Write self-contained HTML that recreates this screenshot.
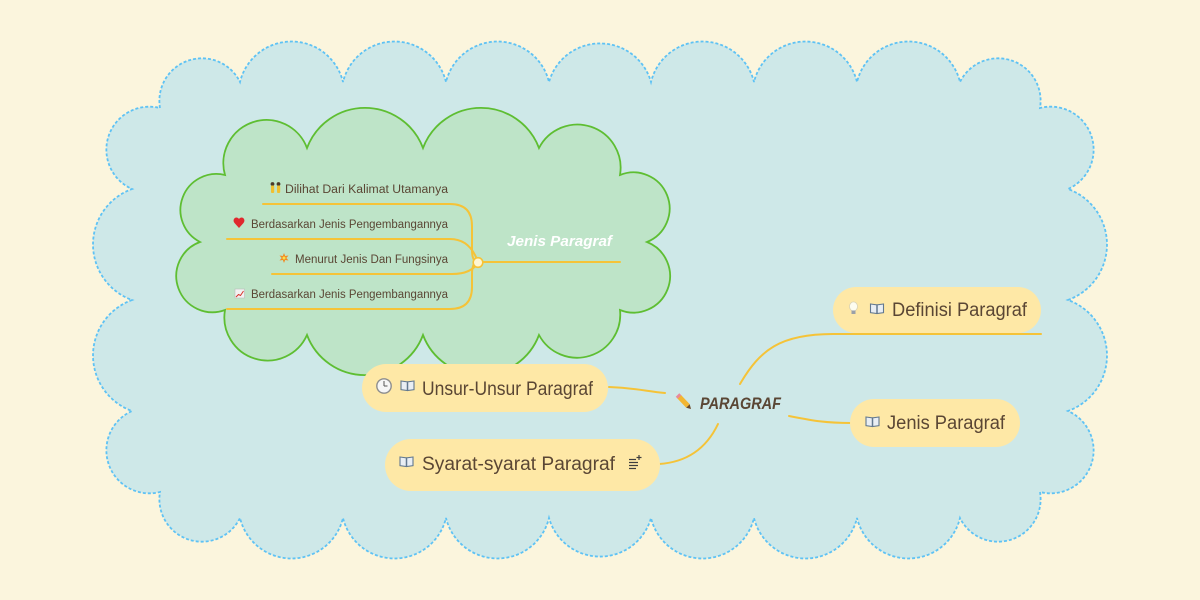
<!DOCTYPE html>
<html>
<head>
<meta charset="utf-8">
<style>
  html,body{margin:0;padding:0;background:#fbf5dd;}
  svg{display:block;}
  .t{font-family:"Liberation Sans",sans-serif;fill:#5a4634;}
</style>
</head>
<body>
<svg width="1200" height="600" viewBox="0 0 1200 600" xmlns="http://www.w3.org/2000/svg">
  <rect x="0" y="0" width="1200" height="600" fill="#fbf5dd"/>

  <!-- outer blue cloud -->
  <path d="M160,108
    A42.5,42.5 0 0 1 240,82
    A53,53 0 0 1 343,82
    A53,53 0 0 1 446,82
    A53,53 0 0 1 549,82
    A53,53 0 0 1 651,82
    A53,53 0 0 1 754,82
    A53,53 0 0 1 857,82
    A53,53 0 0 1 960,82
    A42.5,42.5 0 0 1 1040,108
    A43,43 0 0 1 1068,189
    A59,59 0 0 1 1068,300
    A59,59 0 0 1 1068,411
    A43,43 0 0 1 1040,492
    A42.5,42.5 0 0 1 960,518
    A53,53 0 0 1 857,518
    A53,53 0 0 1 754,518
    A53,53 0 0 1 651,518
    A53,53 0 0 1 549,518
    A53,53 0 0 1 446,518
    A53,53 0 0 1 343,518
    A53,53 0 0 1 240,518
    A42.5,42.5 0 0 1 160,492
    A43,43 0 0 1 132,411
    A59,59 0 0 1 132,300
    A59,59 0 0 1 132,189
    A43,43 0 0 1 160,108 Z"
    fill="#cee8e8" stroke="#5ec2f4" stroke-width="1.8" stroke-dasharray="3 2"/>

  <!-- inner green cloud -->
  <path d="M225,175
    A43.2,43.2 0 0 1 307,148
    A62,62 0 0 1 423,148
    A62,62 0 0 1 539,148
    A43.2,43.2 0 0 1 620,175
    A36,36 0 0 1 647,242
    A36,36 0 0 1 620,310
    A43.2,43.2 0 0 1 539,335
    A62,62 0 0 1 423,335
    A62,62 0 0 1 307,335
    A43.2,43.2 0 0 1 225,310
    A36,36 0 0 1 200,242
    A36,36 0 0 1 225,175 Z"
    fill="#bee4c8" stroke="#5ebe32" stroke-width="1.8"/>

  <!-- inner branch lines -->
  <g fill="none" stroke="#f5c338" stroke-width="2" stroke-linecap="round">
    <path d="M263,204 H450 Q472,204 472,226 V250 Q472,262 478,262"/>
    <path d="M227,239 H450 Q470,239 478,262"/>
    <path d="M272,274 H452 Q472,274 478,262"/>
    <path d="M227,309 H450 Q472,309 472,287 V274 Q472,262 478,262"/>
    <path d="M478,262 H620"/>
  </g>
  <circle cx="478" cy="262.5" r="4.8" fill="#fff6d2" stroke="#f5c338" stroke-width="1.6"/>

  <!-- Jenis Paragraf label -->
  <text x="507" y="246" font-family="Liberation Sans, sans-serif" font-size="15" font-weight="bold" font-style="italic" fill="#ffffff" textLength="105" lengthAdjust="spacingAndGlyphs">Jenis Paragraf</text>

  <!-- child texts -->
  <text class="t" x="285" y="193" font-size="11.5" textLength="163" lengthAdjust="spacingAndGlyphs">Dilihat Dari Kalimat Utamanya</text>
  <text class="t" x="251" y="228" font-size="11.5" textLength="197" lengthAdjust="spacingAndGlyphs">Berdasarkan Jenis Pengembangannya</text>
  <text class="t" x="295" y="263" font-size="11.5" textLength="153" lengthAdjust="spacingAndGlyphs">Menurut Jenis Dan Fungsinya</text>
  <text class="t" x="251" y="298" font-size="11.5" textLength="197" lengthAdjust="spacingAndGlyphs">Berdasarkan Jenis Pengembangannya</text>

  <!-- child icons -->
  <g>
    <circle cx="272.5" cy="184" r="1.9" fill="#4a3a2a"/>
    <rect x="271" y="185.5" width="3.2" height="7.5" rx="1" fill="#f0c030"/>
    <circle cx="278.5" cy="184" r="1.9" fill="#4a3a2a"/>
    <rect x="277" y="185.5" width="3.2" height="7.5" rx="1" fill="#f0c030"/>
  </g>
  <path d="M239,228 L234.5,223 C232.5,220.5 234,217.5 236.5,217.5 C238,217.5 239,219 239,219 C239,219 240,217.5 241.5,217.5 C244,217.5 245.5,220.5 243.5,223 Z" fill="#e0282e"/>
  <polygon points="284,253 285.2,256 288.5,255.5 286.3,258 288.5,260.5 285.2,260 284,263 282.8,260 279.5,260.5 281.7,258 279.5,255.5 282.8,256" fill="#f08a24"/>
  <circle cx="284" cy="258" r="1.5" fill="#fbe04a"/>
  <rect x="235" y="289" width="9.5" height="9" fill="#f2f2f2" stroke="#bbb" stroke-width="0.6"/>
  <polyline points="236,297 238.5,294.5 240.5,295.5 243.5,291" fill="none" stroke="#d8342c" stroke-width="1"/>

  <!-- main connectors -->
  <g fill="none" stroke="#f5c338" stroke-width="2" stroke-linecap="round">
    <path d="M740,384 C760,350 780,334 833,334 H1041"/>
    <path d="M789,416 C815,421 825,423 851,423"/>
    <path d="M609,387 C635,388 645,391 665,393"/>
    <path d="M659,464 C690,462 708,445 718,424"/>
  </g>

  <!-- nodes -->
  <rect x="833" y="287" width="208" height="46" rx="23" fill="#fee8a6"/>
  <rect x="850" y="399" width="170" height="48" rx="24" fill="#fee8a6"/>
  <rect x="362" y="364" width="246" height="48" rx="24" fill="#fee8a6"/>
  <rect x="385" y="439" width="275" height="52" rx="26" fill="#fee8a6"/>
  <path d="M833,334 H1041" stroke="#f5c338" stroke-width="2" fill="none"/>

  <!-- node texts -->
  <text class="t" x="892" y="316" font-size="19" textLength="135" lengthAdjust="spacingAndGlyphs">Definisi Paragraf</text>
  <text class="t" x="887" y="429" font-size="19" textLength="118" lengthAdjust="spacingAndGlyphs">Jenis Paragraf</text>
  <text class="t" x="422" y="395" font-size="19" textLength="171" lengthAdjust="spacingAndGlyphs">Unsur-Unsur Paragraf</text>
  <text class="t" x="422" y="470" font-size="19" textLength="193" lengthAdjust="spacingAndGlyphs">Syarat-syarat Paragraf</text>

  <!-- central topic -->
  <text x="700" y="409" font-family="Liberation Sans, sans-serif" font-size="17" font-weight="bold" font-style="italic" fill="#5a4634" textLength="81" lengthAdjust="spacingAndGlyphs">PARAGRAF</text>
  <g>
    <line x1="679" y1="396.5" x2="688" y2="406" stroke="#f2b632" stroke-width="5" stroke-linecap="butt"/>
    <line x1="677.5" y1="395" x2="679.5" y2="397" stroke="#e88a9a" stroke-width="5"/>
    <polygon points="686.2,407.7 689.7,404.3 691,409" fill="#6b4a2a"/>
  </g>

  <!-- book icons -->
  <g transform="translate(870,303)">
    <path d="M0.5,1 L6.8,1.8 L6.8,10.5 L0.5,9.7 Z" fill="#e9eef4" stroke="#62788f" stroke-width="1.1"/>
    <path d="M13.5,1 L7.2,1.8 L7.2,10.5 L13.5,9.7 Z" fill="#e9eef4" stroke="#62788f" stroke-width="1.1"/>
  </g>
  <g transform="translate(865.5,416)">
    <path d="M0.5,1 L6.8,1.8 L6.8,10.5 L0.5,9.7 Z" fill="#e9eef4" stroke="#62788f" stroke-width="1.1"/>
    <path d="M13.5,1 L7.2,1.8 L7.2,10.5 L13.5,9.7 Z" fill="#e9eef4" stroke="#62788f" stroke-width="1.1"/>
  </g>
  <g transform="translate(400.5,380)">
    <path d="M0.5,1 L6.8,1.8 L6.8,10.5 L0.5,9.7 Z" fill="#e9eef4" stroke="#62788f" stroke-width="1.1"/>
    <path d="M13.5,1 L7.2,1.8 L7.2,10.5 L13.5,9.7 Z" fill="#e9eef4" stroke="#62788f" stroke-width="1.1"/>
  </g>
  <g transform="translate(399.5,456)">
    <path d="M0.5,1 L6.8,1.8 L6.8,10.5 L0.5,9.7 Z" fill="#e9eef4" stroke="#62788f" stroke-width="1.1"/>
    <path d="M13.5,1 L7.2,1.8 L7.2,10.5 L13.5,9.7 Z" fill="#e9eef4" stroke="#62788f" stroke-width="1.1"/>
  </g>

  <!-- bulb -->
  <g>
    <ellipse cx="853.5" cy="306.5" rx="4" ry="4.6" fill="#fdfcf0" stroke="#d8d2b8" stroke-width="0.8"/>
    <rect x="851.5" y="310.5" width="4" height="3.5" fill="#9aa0a8"/>
  </g>

  <!-- clock -->
  <g>
    <circle cx="384" cy="386" r="7.2" fill="#f6f6f6" stroke="#8e8e8e" stroke-width="1.4"/>
    <line x1="384" y1="386" x2="384" y2="381" stroke="#555" stroke-width="1"/>
    <line x1="384" y1="386" x2="387.5" y2="386" stroke="#555" stroke-width="1"/>
  </g>

  <!-- notes icon -->
  <g stroke="#3e3e3e" stroke-width="1.2">
    <line x1="629" y1="459.5" x2="636" y2="459.5"/>
    <line x1="629" y1="462.5" x2="638" y2="462.5"/>
    <line x1="629" y1="465.5" x2="638" y2="465.5"/>
    <line x1="629" y1="468.5" x2="636" y2="468.5"/>
    <line x1="639" y1="455" x2="639" y2="460"/>
    <line x1="636.5" y1="457.5" x2="641.5" y2="457.5"/>
  </g>
</svg>
</body>
</html>
